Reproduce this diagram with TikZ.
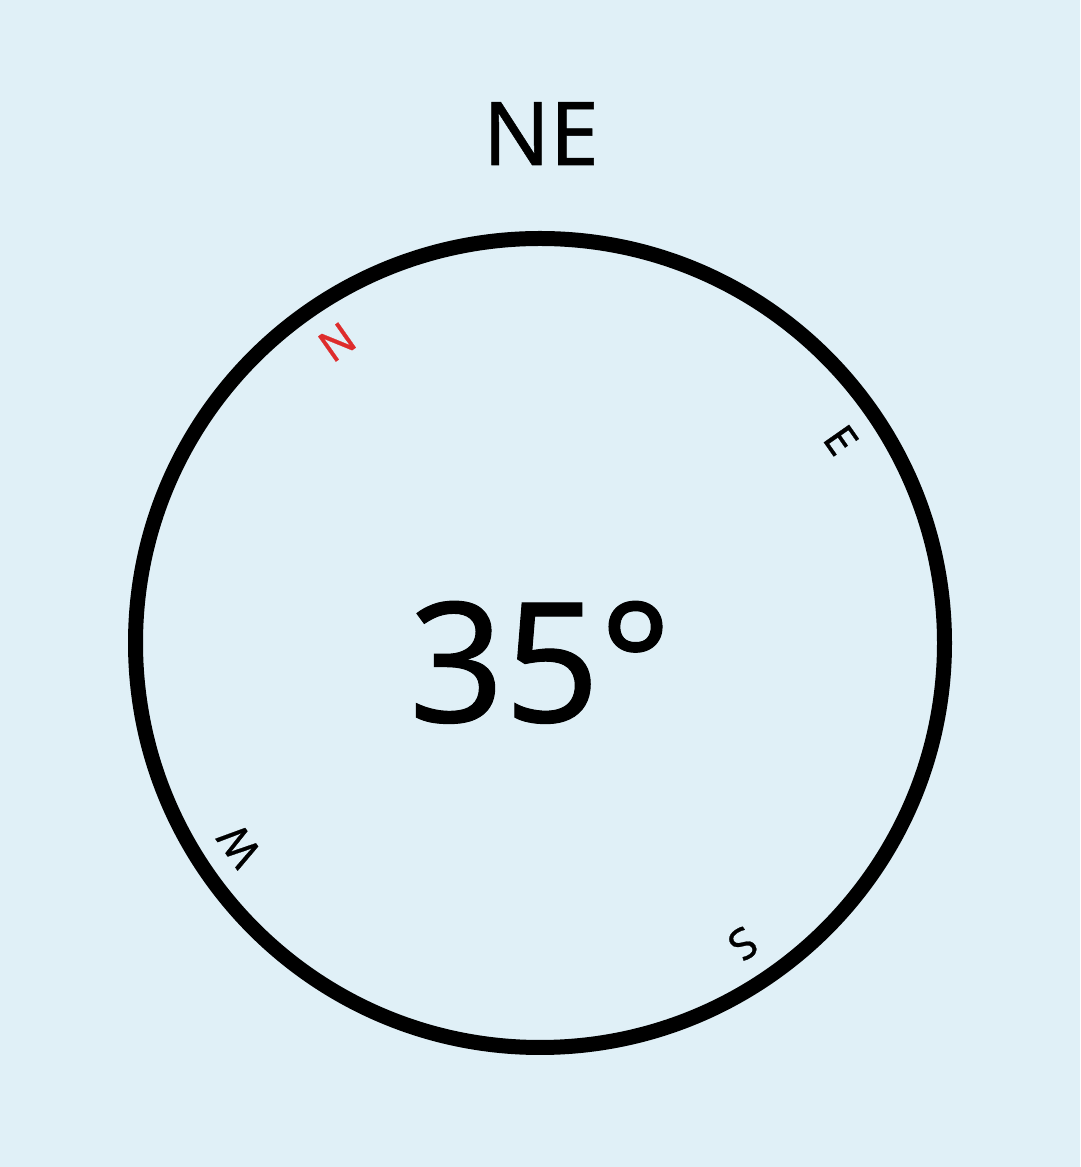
\documentclass[tikz,border=0pt]{standalone}
\usepackage{fontspec}
\setmainfont{Noto Sans}
\newfontfamily\dialfont[FakeBold=0.6]{Noto Sans}
\usetikzlibrary{calc}
\definecolor{dialbg}{RGB}{224,240,247}
\definecolor{northred}{RGB}{222,44,44}
\tikzset{
 dial/.style={draw=black,line width=15pt},
 heading/.style={inner sep=0,anchor=base,font=\dialfont\fontsize{88}{88}\selectfont},
 bearing/.style={inner sep=0,anchor=base,font=\dialfont\fontsize{167}{167}\selectfont},
 cardinal/.style={inner sep=0,anchor=center,font=\dialfont\fontsize{43}{43}\selectfont}
}
\begin{document}
\begin{tikzpicture}[x=1pt,y=1pt]
\fill[dialbg] (0,0) rectangle (1080,1167);
\useasboundingbox (0,0) rectangle (1080,1167);
\coordinate (C) at (540,524);
\draw[dial] (C) circle (404.5);
\node[heading] (NE) at (541,1002) {NE};
\node[bearing] (deg) at (540,445) {35°};
\node[cardinal,text=northred,rotate=35] (N) at ($(C)+(124:363)$) {N};
\node[cardinal,rotate=-55] (E) at ($(C)+(34:363)$) {E};
\node[cardinal,rotate=-145] (S) at ($(C)+(-56:363)$) {S};
\node[cardinal,rotate=125] (W) at ($(C)+(-146:363)$) {W};
\end{tikzpicture}
\end{document}
